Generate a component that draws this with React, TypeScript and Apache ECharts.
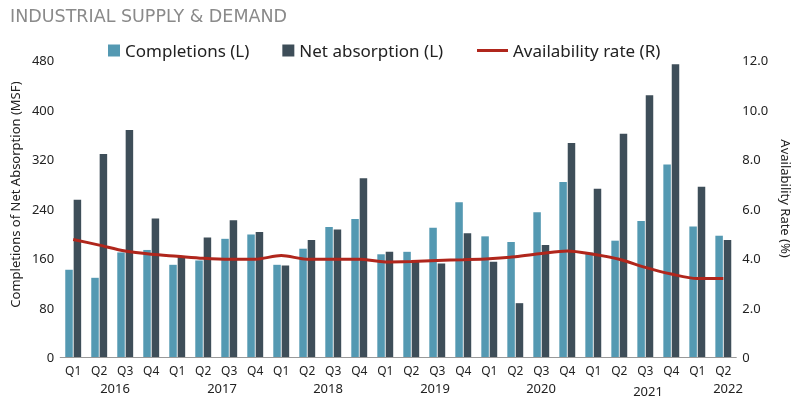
import React, { useEffect, useRef } from "react";
import * as echarts from "echarts";

const quarters = [
  "Q1", "Q2", "Q3", "Q4",
  "Q1", "Q2", "Q3", "Q4",
  "Q1", "Q2", "Q3", "Q4",
  "Q1", "Q2", "Q3", "Q4",
  "Q1", "Q2", "Q3", "Q4",
  "Q1", "Q2", "Q3", "Q4",
  "Q1", "Q2",
];
const categoryKeys = quarters.map((q, i) => `${q}-${i}`);
const years = ["2016", "2017", "2018", "2019", "2020", "2021", "2022"];
const completions = [141, 128, 169, 173, 149, 156, 191, 198, 149, 175, 210, 223, 166, 170, 209, 250, 195, 186, 234, 283, 169, 188, 220, 311, 211, 196];
const netAbsorption = [254, 328, 367, 224, 163, 193, 221, 202, 148, 189, 206, 289, 170, 155, 151, 200, 154, 87, 181, 346, 272, 361, 423, 473, 275, 189];
const availability = [4.75, 4.52, 4.28, 4.15, 4.07, 3.99, 3.95, 3.95, 4.1, 3.95, 3.95, 3.95, 3.84, 3.86, 3.9, 3.93, 3.97, 4.05, 4.18, 4.28, 4.15, 3.95, 3.62, 3.35, 3.17, 3.17];
const leftTicks = { min: 0, max: 480, interval: 80 };
const rightTicks = { min: 0, max: 12, interval: 2 };

const FONT = "'Noto Sans', sans-serif";
const yearX = [115, 222, 328, 435, 541, 648, 728];
const yearY = [388, 388, 388, 388, 388, 391, 388];

export default function App() {
  const ref = useRef<HTMLDivElement>(null);
  useEffect(() => {
    if (!ref.current) return;
    const chart = echarts.init(ref.current, undefined, { renderer: "svg" });
    chart.setOption({
      animation: false,
      textStyle: { fontFamily: FONT },
      title: {
        text: "INDUSTRIAL SUPPLY & DEMAND",
        left: 5,
        top: 2,
        textStyle: { fontFamily: "'DejaVu Sans', sans-serif", fontSize: 17.5, fontWeight: "normal", color: "#8a8a8a" },
      },
      legend: [
        {
          data: ["Completions (L)", "Net absorption (L)"],
          left: 108,
          top: 42,
          padding: 0,
          icon: "rect",
          itemWidth: 12,
          itemHeight: 12,
          itemGap: 33,
          textStyle: { fontFamily: FONT, fontSize: 17, color: "#222" },
        },
        {
          data: [{ name: "Availability rate (R)", icon: "rect" }],
          left: 477,
          top: 42,
          padding: 0,
          itemWidth: 31,
          itemHeight: 3,
          textStyle: { fontFamily: FONT, fontSize: 17, color: "#222" },
        },
      ],
      grid: { left: 53, right: 53, top: 60, bottom: 43 },
      xAxis: {
        type: "category",
        data: categoryKeys,
        axisLine: { lineStyle: { color: "#999", width: 1 } },
        axisTick: { inside: true, length: 5, lineStyle: { color: "#bbb" } },
        axisLabel: {
          formatter: (v: string) => v.split("-")[0],
          fontSize: 12,
          color: "#222",
          margin: 7,
          interval: 0,
        },
      },
      yAxis: [
        {
          type: "value",
          ...leftTicks,
          name: "Completions of Net Absorption (MSF)",
          nameLocation: "middle",
          nameGap: 24,
          nameTextStyle: { fontSize: 13, color: "#222", padding: [0, 0, 0, 28] },
          splitLine: { show: false },
          axisLine: { show: false },
          axisTick: { show: false },
          axisLabel: { fontSize: 13, color: "#222", margin: 6 },
        },
        {
          type: "value",
          ...rightTicks,
          name: "Availability Rate (%)",
          nameLocation: "middle",
          nameRotate: -90,
          nameGap: 25,
          nameTextStyle: { fontSize: 13, color: "#222", padding: [0, 20, 0, 0] },
          splitLine: { show: false },
          axisLine: { show: false },
          axisTick: { show: false },
          axisLabel: {
            fontSize: 13,
            color: "#222",
            margin: 6,
            formatter: (v: number) => (v === 0 ? "0" : v.toFixed(1)),
          },
        },
      ],
      series: [
        {
          name: "Completions (L)",
          type: "bar",
          data: completions,
          barWidth: 7.5,
          barGap: "12%",
          itemStyle: { color: "#5499b2" },
        },
        {
          name: "Net absorption (L)",
          type: "bar",
          data: netAbsorption,
          barWidth: 7.5,
          barGap: "12%",
          itemStyle: { color: "#3e4e59" },
        },
        {
          name: "Availability rate (R)",
          type: "line",
          yAxisIndex: 1,
          data: availability,
          smooth: 0.3,
          symbol: "none",
          lineStyle: { color: "#b0261c", width: 3 },
          itemStyle: { color: "#b0261c" },
        },
      ],
      graphic: years.map((y, i) => ({
        type: "text",
        x: yearX[i],
        y: yearY[i],
        style: {
          text: y,
          fontFamily: FONT,
          fontSize: 13,
          fill: "#222",
          align: "center",
          verticalAlign: "middle",
        },
      })),
    });
    return () => chart.dispose();
  }, []);
  return (
    <div
      ref={ref}
      style={{ position: "fixed", left: 0, top: 0, width: 800, height: 400 }}
    />
  );
}
